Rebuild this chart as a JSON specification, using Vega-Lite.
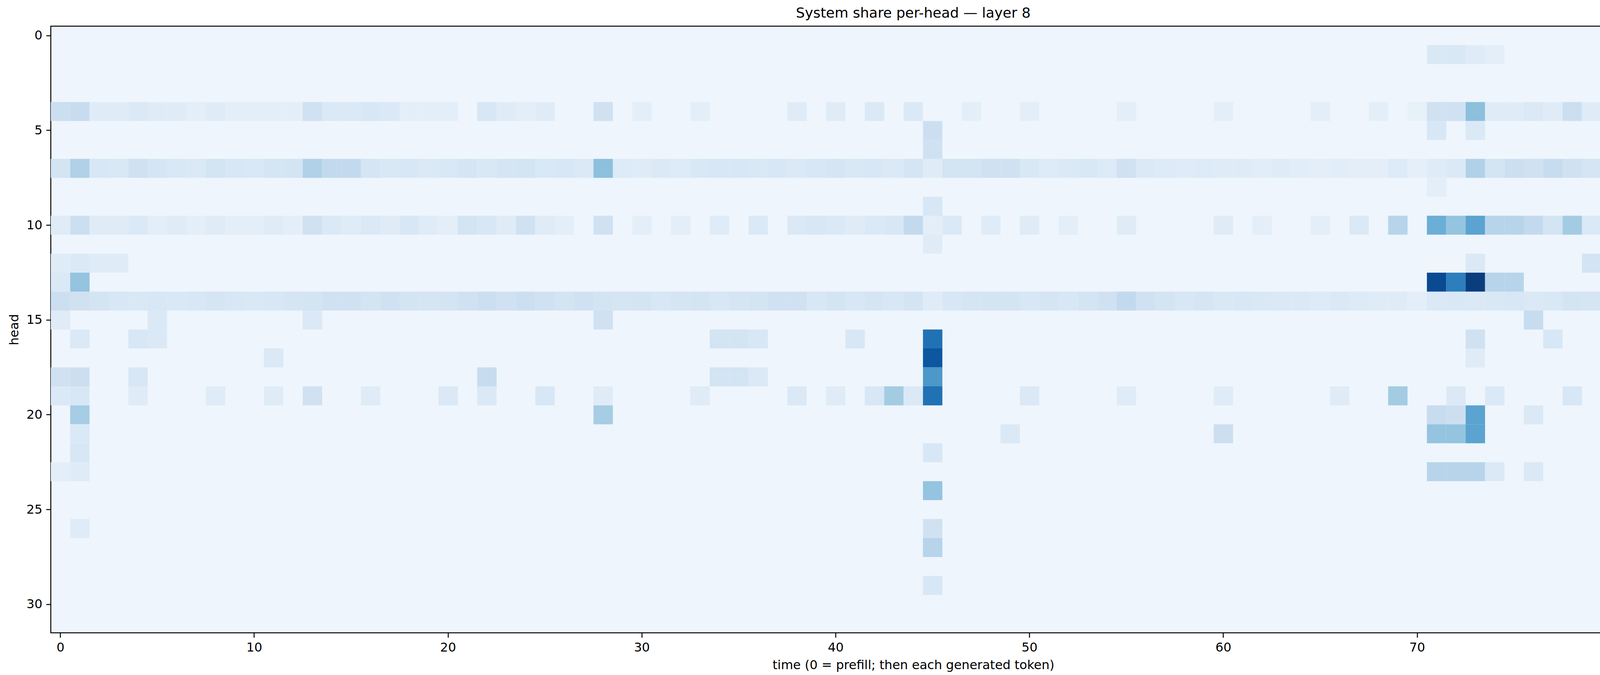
{
  "$schema": "https://vega.github.io/schema/vega-lite/v6.json",
  "width": 5607,
  "height": 1728,
  "autosize": {"type": "fit", "contains": "padding"},
  "padding": {"left": 20, "top": 16, "right": 660, "bottom": 10},
  "title": {"text": "System share per-head — layer 8", "fontSize": 36, "fontWeight": "normal", "font": "DejaVu Sans", "offset": 14},
  "datasets": {
    "cells": [
      {"t":0,"h":7,"v":0.18},{"t":1,"h":7,"v":0.32},{"t":2,"h":7,"v":0.16},{"t":3,"h":7,"v":0.15},{"t":4,"h":7,"v":0.2},{"t":5,"h":7,"v":0.17},{"t":6,"h":7,"v":0.15},{"t":7,"h":7,"v":0.14},{"t":8,"h":7,"v":0.18},{"t":9,"h":7,"v":0.16},{"t":10,"h":7,"v":0.15},{"t":11,"h":7,"v":0.17},{"t":12,"h":7,"v":0.18},{"t":13,"h":7,"v":0.32},{"t":14,"h":7,"v":0.26},{"t":15,"h":7,"v":0.26},{"t":16,"h":7,"v":0.17},{"t":17,"h":7,"v":0.15},{"t":18,"h":7,"v":0.16},{"t":19,"h":7,"v":0.14},{"t":20,"h":7,"v":0.15},{"t":21,"h":7,"v":0.17},{"t":22,"h":7,"v":0.15},{"t":23,"h":7,"v":0.17},{"t":24,"h":7,"v":0.18},{"t":25,"h":7,"v":0.15},{"t":26,"h":7,"v":0.16},{"t":27,"h":7,"v":0.14},{"t":28,"h":7,"v":0.42},{"t":29,"h":7,"v":0.13},{"t":30,"h":7,"v":0.12},{"t":31,"h":7,"v":0.14},{"t":32,"h":7,"v":0.13},{"t":33,"h":7,"v":0.15},{"t":34,"h":7,"v":0.16},{"t":35,"h":7,"v":0.16},{"t":36,"h":7,"v":0.15},{"t":37,"h":7,"v":0.16},{"t":38,"h":7,"v":0.14},{"t":39,"h":7,"v":0.16},{"t":40,"h":7,"v":0.17},{"t":41,"h":7,"v":0.15},{"t":42,"h":7,"v":0.16},{"t":43,"h":7,"v":0.14},{"t":44,"h":7,"v":0.17},{"t":45,"h":7,"v":0.12},{"t":46,"h":7,"v":0.18},{"t":47,"h":7,"v":0.18},{"t":48,"h":7,"v":0.2},{"t":49,"h":7,"v":0.2},{"t":50,"h":7,"v":0.15},{"t":51,"h":7,"v":0.13},{"t":52,"h":7,"v":0.14},{"t":53,"h":7,"v":0.15},{"t":54,"h":7,"v":0.13},{"t":55,"h":7,"v":0.2},{"t":56,"h":7,"v":0.14},{"t":57,"h":7,"v":0.13},{"t":58,"h":7,"v":0.12},{"t":59,"h":7,"v":0.13},{"t":60,"h":7,"v":0.12},{"t":61,"h":7,"v":0.12},{"t":62,"h":7,"v":0.11},{"t":63,"h":7,"v":0.12},{"t":64,"h":7,"v":0.11},{"t":65,"h":7,"v":0.1},{"t":66,"h":7,"v":0.11},{"t":67,"h":7,"v":0.1},{"t":68,"h":7,"v":0.1},{"t":69,"h":7,"v":0.13},{"t":70,"h":7,"v":0.09},{"t":71,"h":7,"v":0.12},{"t":72,"h":7,"v":0.14},{"t":73,"h":7,"v":0.32},{"t":74,"h":7,"v":0.18},{"t":75,"h":7,"v":0.22},{"t":76,"h":7,"v":0.2},{"t":77,"h":7,"v":0.24},{"t":78,"h":7,"v":0.2},{"t":79,"h":7,"v":0.17},{"t":80,"h":7,"v":0.24},{"t":81,"h":7,"v":0.2},{"t":82,"h":7,"v":0.2},{"t":83,"h":7,"v":0.22},{"t":84,"h":7,"v":0.2},{"t":85,"h":7,"v":0.2},{"t":86,"h":7,"v":0.2},{"t":87,"h":7,"v":0.2},{"t":88,"h":7,"v":0.24},

      {"t":0,"h":14,"v":0.22},{"t":1,"h":14,"v":0.2},{"t":2,"h":14,"v":0.18},{"t":3,"h":14,"v":0.16},{"t":4,"h":14,"v":0.15},{"t":5,"h":14,"v":0.16},{"t":6,"h":14,"v":0.15},{"t":7,"h":14,"v":0.16},{"t":8,"h":14,"v":0.17},{"t":9,"h":14,"v":0.16},{"t":10,"h":14,"v":0.15},{"t":11,"h":14,"v":0.16},{"t":12,"h":14,"v":0.17},{"t":13,"h":14,"v":0.18},{"t":14,"h":14,"v":0.2},{"t":15,"h":14,"v":0.2},{"t":16,"h":14,"v":0.18},{"t":17,"h":14,"v":0.2},{"t":18,"h":14,"v":0.18},{"t":19,"h":14,"v":0.17},{"t":20,"h":14,"v":0.18},{"t":21,"h":14,"v":0.2},{"t":22,"h":14,"v":0.22},{"t":23,"h":14,"v":0.2},{"t":24,"h":14,"v":0.22},{"t":25,"h":14,"v":0.2},{"t":26,"h":14,"v":0.18},{"t":27,"h":14,"v":0.2},{"t":28,"h":14,"v":0.18},{"t":29,"h":14,"v":0.17},{"t":30,"h":14,"v":0.18},{"t":31,"h":14,"v":0.16},{"t":32,"h":14,"v":0.17},{"t":33,"h":14,"v":0.18},{"t":34,"h":14,"v":0.16},{"t":35,"h":14,"v":0.17},{"t":36,"h":14,"v":0.18},{"t":37,"h":14,"v":0.2},{"t":38,"h":14,"v":0.2},{"t":39,"h":14,"v":0.16},{"t":40,"h":14,"v":0.18},{"t":41,"h":14,"v":0.16},{"t":42,"h":14,"v":0.17},{"t":43,"h":14,"v":0.16},{"t":44,"h":14,"v":0.18},{"t":45,"h":14,"v":0.12},{"t":46,"h":14,"v":0.16},{"t":47,"h":14,"v":0.17},{"t":48,"h":14,"v":0.18},{"t":49,"h":14,"v":0.18},{"t":50,"h":14,"v":0.16},{"t":51,"h":14,"v":0.17},{"t":52,"h":14,"v":0.16},{"t":53,"h":14,"v":0.18},{"t":54,"h":14,"v":0.2},{"t":55,"h":14,"v":0.26},{"t":56,"h":14,"v":0.2},{"t":57,"h":14,"v":0.18},{"t":58,"h":14,"v":0.16},{"t":59,"h":14,"v":0.17},{"t":60,"h":14,"v":0.15},{"t":61,"h":14,"v":0.16},{"t":62,"h":14,"v":0.15},{"t":63,"h":14,"v":0.14},{"t":64,"h":14,"v":0.14},{"t":65,"h":14,"v":0.13},{"t":66,"h":14,"v":0.14},{"t":67,"h":14,"v":0.13},{"t":68,"h":14,"v":0.12},{"t":69,"h":14,"v":0.12},{"t":70,"h":14,"v":0.1},{"t":71,"h":14,"v":0.14},{"t":72,"h":14,"v":0.15},{"t":73,"h":14,"v":0.14},{"t":74,"h":14,"v":0.15},{"t":75,"h":14,"v":0.16},{"t":76,"h":14,"v":0.14},{"t":77,"h":14,"v":0.15},{"t":78,"h":14,"v":0.18},{"t":79,"h":14,"v":0.17},{"t":80,"h":14,"v":0.18},{"t":81,"h":14,"v":0.2},{"t":82,"h":14,"v":0.22},{"t":83,"h":14,"v":0.2},{"t":84,"h":14,"v":0.22},{"t":85,"h":14,"v":0.2},{"t":86,"h":14,"v":0.22},{"t":87,"h":14,"v":0.2},{"t":88,"h":14,"v":0.26},

      {"t":0,"h":4,"v":0.22},{"t":1,"h":4,"v":0.24},{"t":2,"h":4,"v":0.12},{"t":3,"h":4,"v":0.12},{"t":4,"h":4,"v":0.14},{"t":5,"h":4,"v":0.12},{"t":6,"h":4,"v":0.12},{"t":7,"h":4,"v":0.1},{"t":8,"h":4,"v":0.12},{"t":9,"h":4,"v":0.1},{"t":10,"h":4,"v":0.1},{"t":11,"h":4,"v":0.1},{"t":12,"h":4,"v":0.1},{"t":13,"h":4,"v":0.2},{"t":14,"h":4,"v":0.14},{"t":15,"h":4,"v":0.14},{"t":16,"h":4,"v":0.16},{"t":17,"h":4,"v":0.14},{"t":18,"h":4,"v":0.1},{"t":19,"h":4,"v":0.1},{"t":20,"h":4,"v":0.1},{"t":22,"h":4,"v":0.16},{"t":23,"h":4,"v":0.12},{"t":24,"h":4,"v":0.1},{"t":25,"h":4,"v":0.12},{"t":28,"h":4,"v":0.2},{"t":30,"h":4,"v":0.1},{"t":33,"h":4,"v":0.1},{"t":38,"h":4,"v":0.12},{"t":40,"h":4,"v":0.12},{"t":42,"h":4,"v":0.14},{"t":44,"h":4,"v":0.14},{"t":47,"h":4,"v":0.1},{"t":50,"h":4,"v":0.1},{"t":55,"h":4,"v":0.1},{"t":60,"h":4,"v":0.1},{"t":65,"h":4,"v":0.1},{"t":68,"h":4,"v":0.1},{"t":70,"h":4,"v":0.08},{"t":71,"h":4,"v":0.2},{"t":72,"h":4,"v":0.2},{"t":73,"h":4,"v":0.42},{"t":74,"h":4,"v":0.12},{"t":75,"h":4,"v":0.12},{"t":76,"h":4,"v":0.14},{"t":77,"h":4,"v":0.12},{"t":78,"h":4,"v":0.22},{"t":79,"h":4,"v":0.12},{"t":80,"h":4,"v":0.26},{"t":81,"h":4,"v":0.14},{"t":82,"h":4,"v":0.12},{"t":83,"h":4,"v":0.14},{"t":84,"h":4,"v":0.14},{"t":85,"h":4,"v":0.14},{"t":86,"h":4,"v":0.16},{"t":87,"h":4,"v":0.14},{"t":88,"h":4,"v":0.14},

      {"t":0,"h":10,"v":0.12},{"t":1,"h":10,"v":0.22},{"t":2,"h":10,"v":0.12},{"t":3,"h":10,"v":0.12},{"t":4,"h":10,"v":0.14},{"t":5,"h":10,"v":0.1},{"t":6,"h":10,"v":0.12},{"t":7,"h":10,"v":0.1},{"t":8,"h":10,"v":0.12},{"t":9,"h":10,"v":0.1},{"t":10,"h":10,"v":0.1},{"t":11,"h":10,"v":0.12},{"t":12,"h":10,"v":0.1},{"t":13,"h":10,"v":0.2},{"t":14,"h":10,"v":0.14},{"t":15,"h":10,"v":0.12},{"t":16,"h":10,"v":0.14},{"t":17,"h":10,"v":0.12},{"t":18,"h":10,"v":0.16},{"t":19,"h":10,"v":0.12},{"t":20,"h":10,"v":0.1},{"t":21,"h":10,"v":0.18},{"t":22,"h":10,"v":0.16},{"t":23,"h":10,"v":0.12},{"t":24,"h":10,"v":0.2},{"t":25,"h":10,"v":0.12},{"t":26,"h":10,"v":0.1},{"t":28,"h":10,"v":0.2},{"t":30,"h":10,"v":0.1},{"t":32,"h":10,"v":0.1},{"t":34,"h":10,"v":0.12},{"t":36,"h":10,"v":0.14},{"t":38,"h":10,"v":0.14},{"t":39,"h":10,"v":0.16},{"t":40,"h":10,"v":0.14},{"t":41,"h":10,"v":0.12},{"t":42,"h":10,"v":0.14},{"t":43,"h":10,"v":0.16},{"t":44,"h":10,"v":0.26},{"t":45,"h":10,"v":0.1},{"t":46,"h":10,"v":0.14},{"t":48,"h":10,"v":0.12},{"t":50,"h":10,"v":0.12},{"t":52,"h":10,"v":0.1},{"t":55,"h":10,"v":0.12},{"t":60,"h":10,"v":0.12},{"t":62,"h":10,"v":0.1},{"t":65,"h":10,"v":0.1},{"t":67,"h":10,"v":0.14},{"t":69,"h":10,"v":0.3},{"t":71,"h":10,"v":0.5},{"t":72,"h":10,"v":0.4},{"t":73,"h":10,"v":0.55},{"t":74,"h":10,"v":0.3},{"t":75,"h":10,"v":0.3},{"t":76,"h":10,"v":0.26},{"t":77,"h":10,"v":0.18},{"t":78,"h":10,"v":0.36},{"t":79,"h":10,"v":0.14},{"t":80,"h":10,"v":0.3},{"t":81,"h":10,"v":0.16},{"t":82,"h":10,"v":0.14},{"t":83,"h":10,"v":0.14},{"t":84,"h":10,"v":0.14},{"t":85,"h":10,"v":0.2},{"t":86,"h":10,"v":0.2},{"t":87,"h":10,"v":0.16},{"t":88,"h":10,"v":0.7},

      {"t":0,"h":19,"v":0.14},{"t":1,"h":19,"v":0.16},{"t":4,"h":19,"v":0.12},{"t":8,"h":19,"v":0.12},{"t":11,"h":19,"v":0.12},{"t":13,"h":19,"v":0.2},{"t":16,"h":19,"v":0.12},{"t":20,"h":19,"v":0.14},{"t":22,"h":19,"v":0.14},{"t":25,"h":19,"v":0.16},{"t":28,"h":19,"v":0.12},{"t":33,"h":19,"v":0.12},{"t":38,"h":19,"v":0.14},{"t":40,"h":19,"v":0.12},{"t":42,"h":19,"v":0.16},{"t":43,"h":19,"v":0.36},{"t":44,"h":19,"v":0.14},{"t":45,"h":19,"v":0.75},{"t":50,"h":19,"v":0.14},{"t":55,"h":19,"v":0.12},{"t":60,"h":19,"v":0.12},{"t":66,"h":19,"v":0.12},{"t":69,"h":19,"v":0.36},{"t":72,"h":19,"v":0.14},{"t":74,"h":19,"v":0.14},{"t":78,"h":19,"v":0.16},{"t":81,"h":19,"v":0.12},{"t":84,"h":19,"v":0.14},{"t":86,"h":19,"v":0.16},{"t":88,"h":19,"v":0.36},

      {"t":71,"h":1,"v":0.15},{"t":72,"h":1,"v":0.15},{"t":73,"h":1,"v":0.12},{"t":74,"h":1,"v":0.1},{"t":88,"h":1,"v":0.12},
      {"t":45,"h":5,"v":0.22},{"t":45,"h":6,"v":0.2},{"t":88,"h":5,"v":0.2},{"t":71,"h":5,"v":0.16},{"t":73,"h":5,"v":0.14},
      {"t":71,"h":8,"v":0.1},{"t":45,"h":9,"v":0.16},{"t":45,"h":11,"v":0.12},
      {"t":0,"h":12,"v":0.12},{"t":1,"h":12,"v":0.14},{"t":2,"h":12,"v":0.12},{"t":3,"h":12,"v":0.12},{"t":79,"h":12,"v":0.18},{"t":80,"h":12,"v":0.16},{"t":81,"h":12,"v":0.2},{"t":82,"h":12,"v":0.2},{"t":83,"h":12,"v":0.22},{"t":84,"h":12,"v":0.3},{"t":85,"h":12,"v":0.3},{"t":86,"h":12,"v":0.3},{"t":87,"h":12,"v":0.24},{"t":73,"h":12,"v":0.14},
      {"t":0,"h":13,"v":0.14},{"t":1,"h":13,"v":0.4},{"t":71,"h":13,"v":0.9},{"t":72,"h":13,"v":0.7},{"t":73,"h":13,"v":0.95},{"t":74,"h":13,"v":0.3},{"t":75,"h":13,"v":0.3},{"t":80,"h":13,"v":0.18},{"t":82,"h":13,"v":0.16},{"t":83,"h":13,"v":0.22},{"t":84,"h":13,"v":0.22},{"t":85,"h":13,"v":0.22},{"t":86,"h":13,"v":0.2},{"t":87,"h":13,"v":0.18},
      {"t":28,"h":15,"v":0.2},{"t":76,"h":15,"v":0.24},{"t":0,"h":15,"v":0.12},{"t":5,"h":15,"v":0.14},{"t":13,"h":15,"v":0.14},{"t":84,"h":15,"v":0.18},{"t":86,"h":15,"v":0.16},
      {"t":45,"h":16,"v":0.75},{"t":1,"h":16,"v":0.14},{"t":4,"h":16,"v":0.16},{"t":5,"h":16,"v":0.14},{"t":34,"h":16,"v":0.18},{"t":35,"h":16,"v":0.18},{"t":36,"h":16,"v":0.16},{"t":41,"h":16,"v":0.16},{"t":73,"h":16,"v":0.2},{"t":77,"h":16,"v":0.16},
      {"t":45,"h":17,"v":0.85},{"t":11,"h":17,"v":0.14},{"t":73,"h":17,"v":0.12},
      {"t":45,"h":18,"v":0.6},{"t":0,"h":18,"v":0.2},{"t":1,"h":18,"v":0.22},{"t":4,"h":18,"v":0.16},{"t":22,"h":18,"v":0.24},{"t":34,"h":18,"v":0.18},{"t":35,"h":18,"v":0.18},{"t":36,"h":18,"v":0.14},{"t":80,"h":18,"v":0.18},
      {"t":1,"h":20,"v":0.35},{"t":28,"h":20,"v":0.35},{"t":71,"h":20,"v":0.24},{"t":72,"h":20,"v":0.22},{"t":73,"h":20,"v":0.55},{"t":80,"h":20,"v":0.26},{"t":76,"h":20,"v":0.14},{"t":84,"h":20,"v":0.14},
      {"t":71,"h":21,"v":0.4},{"t":72,"h":21,"v":0.4},{"t":73,"h":21,"v":0.55},{"t":60,"h":21,"v":0.22},{"t":49,"h":21,"v":0.14},{"t":1,"h":21,"v":0.14},
      {"t":45,"h":22,"v":0.16},{"t":88,"h":22,"v":0.16},{"t":1,"h":22,"v":0.16},
      {"t":71,"h":23,"v":0.3},{"t":72,"h":23,"v":0.3},{"t":73,"h":23,"v":0.3},{"t":74,"h":23,"v":0.14},{"t":76,"h":23,"v":0.14},{"t":80,"h":23,"v":0.16},{"t":82,"h":23,"v":0.16},{"t":83,"h":23,"v":0.16},{"t":84,"h":23,"v":0.16},{"t":85,"h":23,"v":0.16},{"t":86,"h":23,"v":0.14},{"t":0,"h":23,"v":0.1},{"t":1,"h":23,"v":0.12},
      {"t":45,"h":24,"v":0.4},{"t":45,"h":26,"v":0.2},{"t":45,"h":27,"v":0.3},{"t":45,"h":29,"v":0.16},{"t":1,"h":26,"v":0.12}
    ]
  },
  "data": {"name": "cells"},
  "mark": {"type": "rect"},
  "encoding": {
    "x": {
      "field": "t", "type": "ordinal",
      "scale": {"domain": [0,1,2,3,4,5,6,7,8,9,10,11,12,13,14,15,16,17,18,19,20,21,22,23,24,25,26,27,28,29,30,31,32,33,34,35,36,37,38,39,40,41,42,43,44,45,46,47,48,49,50,51,52,53,54,55,56,57,58,59,60,61,62,63,64,65,66,67,68,69,70,71,72,73,74,75,76,77,78,79,80,81,82,83,84,85,86,87,88], "paddingInner": 0, "paddingOuter": 0},
      "axis": {"values": [0,10,20,30,40,50,60,70,80], "labelAngle": 0, "title": "time (0 = prefill; then each generated token)"}
    },
    "y": {
      "field": "h", "type": "ordinal",
      "scale": {"domain": [0,1,2,3,4,5,6,7,8,9,10,11,12,13,14,15,16,17,18,19,20,21,22,23,24,25,26,27,28,29,30,31], "paddingInner": 0, "paddingOuter": 0},
      "axis": {"values": [0,5,10,15,20,25,30], "title": "head"}
    },
    "color": {
      "field": "v", "type": "quantitative",
      "scale": {"domain": [0,0.125,0.25,0.375,0.5,0.625,0.75,0.875,1], "range": ["#f7fbff","#deebf7","#c6dbef","#9ecae1","#6baed6","#4292c6","#2171b5","#08519c","#08306b"]},
      "legend": {"title": null, "gradientLength": 1556, "gradientThickness": 78, "values": [0,0.2,0.4,0.6,0.8,1], "format": ".1f", "offset": 270, "gradientStrokeColor": "black", "gradientStrokeWidth": 1.5}
    }
  },
  "config": {
    "font": "DejaVu Sans",
    "view": {"fill": "#eef5fc", "stroke": "black", "strokeWidth": 2.5},
    "axis": {"labelFontSize": 32, "titleFontSize": 32, "titleFontWeight": "normal", "tickSize": 12, "tickWidth": 2.5, "tickColor": "black", "labelColor": "black", "domain": false, "grid": false, "labelPadding": 10, "titlePadding": 14},
    "legend": {"labelFontSize": 32, "labelColor": "black"}
  }
}
